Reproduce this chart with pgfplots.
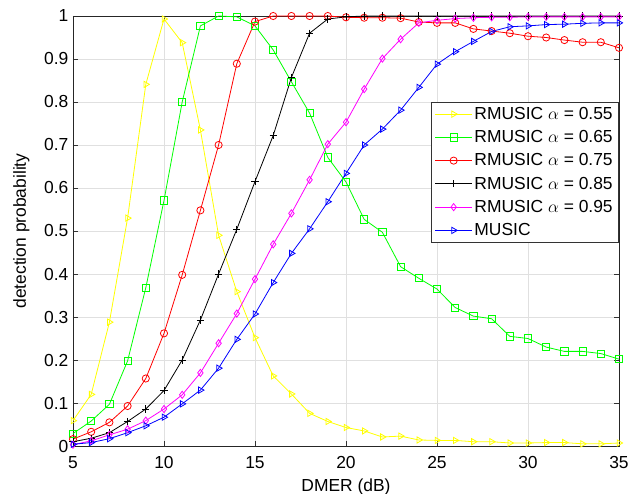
\documentclass[border=0pt]{standalone}
\usepackage{pgfplots}
\pgfplotsset{compat=1.18}
\usepackage{fontspec}
\setmainfont{Liberation Sans}
\definecolor{myyellow}{rgb}{1,1,0}
\definecolor{mygreen}{rgb}{0,1,0}
\definecolor{mymag}{rgb}{1,0,1}
\begin{document}
\begin{tikzpicture}
\begin{axis}[
  scale only axis, width=546bp, height=430bp,
  xmin=5, xmax=35, ymin=0, ymax=1,
  xtick={5,10,15,20,25,30,35},
  xticklabels={5,10,15,20,25,30,35},
  ytick={0,0.1,0.2,0.3,0.4,0.5,0.6,0.7,0.8,0.9,1},
  yticklabels={0,0.1,0.2,0.3,0.4,0.5,0.6,0.7,0.8,0.9,1},
  grid=major, major grid style={black!12, line width=0.7bp},
  tick align=inside, major tick length=5bp,
  tick style={black!80, line width=0.7bp},
  axis line style={black!85, line width=0.8bp},
  ticklabel style={font=\fontsize{17.5}{20}\selectfont},
  xticklabel style={anchor=base, yshift=-22.3bp},
  yticklabel style={inner xsep=4.5bp},
  label style={font=\fontsize{17.5}{20}\selectfont},
  xlabel={DMER (dB)}, ylabel={detection probability},
  xlabel style={at={(axis description cs:0.5,-0.1063)}, anchor=base},
  ylabel style={at={(axis description cs:-0.0861,0.5)}, anchor=base},
  clip=false,
  every axis plot/.append style={line width=0.8bp, mark size=3.6bp},
  legend style={at={(1,0.8)}, anchor=north east, draw=black!80, line width=0.6bp,
    font=\fontsize{17.5}{20}\selectfont, inner xsep=4bp, inner ysep=3bp, row sep=5.6bp, fill=white},
  legend cell align=left,
  legend image code/.code={\draw[mark repeat=2,mark phase=2] plot coordinates {(0cm,0cm) (0.65cm,0cm) (1.3cm,0cm)};},
]
\addplot[color=myyellow, mark=triangle, mark options={rotate=-90}] coordinates {
(5,0.059)(6,0.120)(7,0.288)(8,0.530)(9,0.841)(10,0.993)(11,0.938)(12,0.735)(13,0.490)(14,0.359)
(15,0.252)(16,0.163)(17,0.121)(18,0.076)(19,0.057)(20,0.043)(21,0.035)(22,0.021)(23,0.023)(24,0.014)
(25,0.013)(26,0.013)(27,0.010)(28,0.010)(29,0.007)(30,0.007)(31,0.008)(32,0.008)(33,0.005)(34,0.005)(35,0.007)};
\addlegendentry{RMUSIC $\alpha$ = 0.55}
\addplot[color=mygreen, mark=square] coordinates {
(5,0.029)(6,0.058)(7,0.097)(8,0.198)(9,0.368)(10,0.571)(11,0.800)(12,0.977)(13,1.0)(14,0.998)
(15,0.977)(16,0.921)(17,0.847)(18,0.774)(19,0.671)(20,0.614)(21,0.527)(22,0.497)(23,0.417)(24,0.390)
(25,0.365)(26,0.322)(27,0.302)(28,0.296)(29,0.255)(30,0.250)(31,0.230)(32,0.220)(33,0.220)(34,0.215)(35,0.202)};
\addlegendentry{RMUSIC $\alpha$ = 0.65}
\addplot[color=red, mark=o] coordinates {
(5,0.016)(6,0.033)(7,0.055)(8,0.093)(9,0.157)(10,0.262)(11,0.398)(12,0.548)(13,0.700)(14,0.889)
(15,0.987)(16,1.0)(17,1.0)(18,1.0)(19,1.0)(20,0.997)(21,0.996)(22,0.996)(23,0.995)(24,0.986)
(25,0.984)(26,0.984)(27,0.970)(28,0.965)(29,0.960)(30,0.953)(31,0.950)(32,0.944)(33,0.939)(34,0.939)(35,0.926)};
\addlegendentry{RMUSIC $\alpha$ = 0.75}
\addplot[color=black, mark=+] coordinates {
(5,0.010)(6,0.018)(7,0.031)(8,0.057)(9,0.086)(10,0.129)(11,0.200)(12,0.293)(13,0.400)(14,0.504)
(15,0.615)(16,0.722)(17,0.857)(18,0.960)(19,0.993)(20,0.998)(21,1.0)(22,1.0)(23,1.0)(24,1.0)
(25,1.0)(26,1.0)(27,1.0)(28,1.0)(29,1.0)(30,1.0)(31,1.0)(32,1.0)(33,1.0)(34,1.0)(35,1.0)};
\addlegendentry{RMUSIC $\alpha$ = 0.85}
\addplot[color=mymag, mark=diamond] coordinates {
(5,0.003)(6,0.012)(7,0.026)(8,0.039)(9,0.059)(10,0.086)(11,0.119)(12,0.170)(13,0.239)(14,0.308)
(15,0.388)(16,0.469)(17,0.541)(18,0.619)(19,0.702)(20,0.753)(21,0.830)(22,0.901)(23,0.946)(24,0.984)
(25,0.990)(26,0.994)(27,0.996)(28,0.997)(29,0.997)(30,0.998)(31,0.998)(32,0.998)(33,0.998)(34,0.998)(35,0.998)};
\addlegendentry{RMUSIC $\alpha$ = 0.95}
\addplot[color=blue, mark=triangle, mark options={rotate=-90}] coordinates {
(5,0.004)(6,0.008)(7,0.017)(8,0.031)(9,0.047)(10,0.067)(11,0.098)(12,0.130)(13,0.181)(14,0.248)
(15,0.307)(16,0.380)(17,0.448)(18,0.505)(19,0.568)(20,0.634)(21,0.700)(22,0.737)(23,0.781)(24,0.834)
(25,0.888)(26,0.917)(27,0.941)(28,0.964)(29,0.975)(30,0.977)(31,0.980)(32,0.981)(33,0.983)(34,0.984)(35,0.984)};
\addlegendentry{MUSIC}
\end{axis}
\pgfresetboundingbox
\path[use as bounding box] ([shift={(-73bp,-48bp)}]current axis.south west) rectangle ([shift={(9bp,16bp)}]current axis.north east);
\end{tikzpicture}
\end{document}
